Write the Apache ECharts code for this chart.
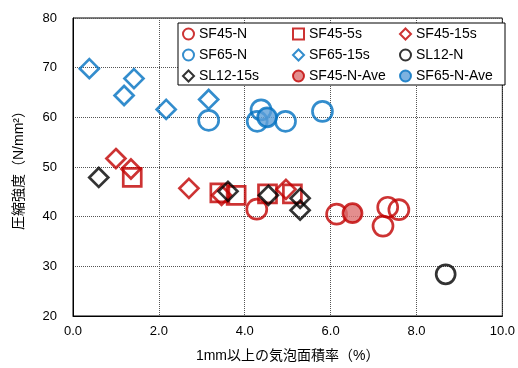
<!DOCTYPE html>
<html>
<head>
<meta charset="utf-8">
<script src="https://cdn.jsdelivr.net/npm/echarts@6/dist/echarts.min.js"></script>
<style>
  html, body { margin: 0; padding: 0; background: #fff; }
  #chart { width: 518px; height: 368px; }
</style>
</head>
<body>
<div id="chart"></div>
<script>
// [気泡面積率 %, 圧縮強度 N/mm2]
var sf45N = [[4.28, 41.5], [6.14, 40.5], [7.33, 41.9], [7.59, 41.4], [7.22, 38.1]];
var sf45_5s = [[1.38, 47.9], [3.42, 44.8], [3.80, 44.3], [4.53, 44.6], [5.11, 44.6]];
var sf45_15s = [[1.0, 51.7], [1.35, 49.6], [2.70, 45.7], [3.46, 44.3], [4.96, 45.5]];
var sf65N = [[3.16, 59.4], [4.29, 59.2], [4.38, 61.5], [4.95, 59.2], [5.81, 61.2]];
var sf65_15s = [[0.38, 69.8], [1.19, 64.4], [1.42, 67.8], [2.17, 61.6], [3.16, 63.6]];
var sl12N = [[8.68, 28.4]];
var sl12_15s = [[0.60, 47.9], [3.61, 45.1], [4.55, 44.3], [5.29, 43.7], [5.29, 41.3]];
var sf45NAve = [[6.51, 40.7]];
var sf65NAve = [[4.52, 60.0]];

var xTicks = { min: 0, max: 10, interval: 2 };
var yTicks = { min: 20, max: 80, interval: 10 };

var RED = '#c00000', BLUE = '#0070c0', BLACK = '#000000';
var FONT = "'Liberation Sans', Arial, 'Noto Sans CJK JP', sans-serif";

function ser(name, data, symbol, size, color, fill) {
    return {
        name: name,
        type: 'scatter',
        data: data,
        symbol: symbol,
        symbolSize: size,
        itemStyle: {
            color: fill || 'rgba(255,255,255,0)',
            borderColor: color,
            borderWidth: 2.7
        }
    };
}

var chart = echarts.init(document.getElementById('chart'));
var legendCommon = {
    orient: 'vertical',
    top: 22,
    itemWidth: 11,
    itemHeight: 11,
    itemGap: 7,
    textStyle: { fontSize: 14, lineHeight: 14, color: '#000', fontFamily: FONT },
    selectedMode: false
};
var option = {
    animation: false,
    textStyle: { fontFamily: FONT },
    grid: {
        left: 73, right: 11, top: 18, bottom: 50,
        show: true, borderColor: '#000', borderWidth: 1
    },
    graphic: [{
        type: 'rect',
        shape: { x: 178, y: 23, width: 327, height: 62 },
        style: { fill: '#fff', stroke: '#000', lineWidth: 1 },
        z: 100
    }],
    legend: [
        Object.assign({ left: 177, data: ['SF45-N', 'SF65-N', 'SL12-15s'], z: 110 }, legendCommon),
        Object.assign({ left: 287, data: ['SF45-5s', 'SF65-15s', 'SF45-N-Ave'], z: 110 }, legendCommon),
        Object.assign({ left: 394, data: ['SF45-15s', 'SL12-N', 'SF65-N-Ave'], z: 110 }, legendCommon)
    ],
    xAxis: {
        type: 'value',
        min: xTicks.min, max: xTicks.max, interval: xTicks.interval,
        name: '1mm以上の気泡面積率（%）',
        nameLocation: 'middle',
        nameGap: 33,
        nameTextStyle: { fontSize: 14, color: '#000' },
        axisLine: { lineStyle: { color: '#000' } },
        axisTick: { show: false },
        axisLabel: {
            fontSize: 13, color: '#000', margin: 9,
            formatter: function (v) { return v.toFixed(1); }
        },
        splitLine: { show: true, lineStyle: { color: '#555', type: 'dotted' } }
    },
    yAxis: {
        type: 'value',
        min: yTicks.min, max: yTicks.max, interval: yTicks.interval,
        name: '圧縮強度（N/mm²）',
        nameLocation: 'middle',
        nameGap: 47,
        nameTextStyle: { fontSize: 14, color: '#000' },
        axisLine: { show: true, lineStyle: { color: '#000' } },
        axisTick: { show: false },
        axisLabel: { fontSize: 13, color: '#000', margin: 16 },
        splitLine: { show: true, lineStyle: { color: '#555', type: 'dotted' } }
    },
    series: [
        ser('SF45-N', sf45N, 'circle', 20, RED),
        ser('SF45-5s', sf45_5s, 'rect', 18, RED),
        ser('SF45-15s', sf45_15s, 'diamond', 19, RED),
        ser('SF65-N', sf65N, 'circle', 20, BLUE),
        ser('SF65-15s', sf65_15s, 'diamond', 19, BLUE),
        ser('SL12-N', sl12N, 'circle', 19, BLACK),
        ser('SL12-15s', sl12_15s, 'diamond', 19, BLACK),
        ser('SF45-N-Ave', sf45NAve, 'circle', 19, RED, '#dc7272'),
        ser('SF65-N-Ave', sf65NAve, 'circle', 19, BLUE, '#5d9fd8')
    ]
};
chart.setOption(option);
</script>
</body>
</html>
